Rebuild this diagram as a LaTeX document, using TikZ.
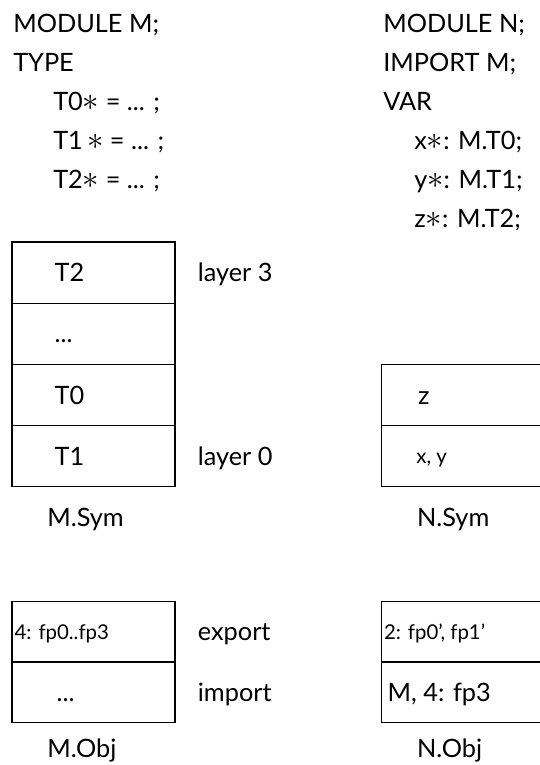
\documentclass[tikz,border=0pt]{standalone}
\usepackage{fontspec}
\setmainfont{Lato}
\usetikzlibrary{positioning}

% export mark after a name
\newcommand{\expmark}{\scalebox{1.35}{$\ast$}}

\tikzset{
	cell/.style={shape=rectangle, draw, line width=0.9pt, minimum width=4.075cm, minimum height=1.53cm},
	objcell/.style={cell, minimum height=1.51cm},
	code/.style={anchor=base west, inner sep=0pt, font=\fontsize{18}{21}\selectfont},
	entry/.style={inner sep=0pt, text height=12.9pt, text depth=0pt, font=\fontsize{18}{21}\selectfont},
	small/.style={entry, text height=10.4pt, font=\fontsize{14.5}{17}\selectfont},
}

\begin{document}
\begin{tikzpicture}
	\useasboundingbox (0,0) rectangle (13.5,19.125);
	% Source text of M and N:
	\node[code] (msrc1) at (0.325, 18.3){MODULE M;};
	\node[code] (msrc2) at (0.325, 17.325){TYPE};
	\node[code] (msrc3) at (1.325, 16.35){T0\expmark{} = ... ;};
	\node[code] (msrc4) at (1.325, 15.375){T1\,\expmark{} = ... ;};
	\node[code] (msrc5) at (1.325, 14.4){T2\expmark{} = ... ;};
	\node[code] (nsrc1) at (9.575, 18.3){MODULE N;};
	\node[code] (nsrc2) at (9.575, 17.325){IMPORT M;};
	\node[code] (nsrc3) at (9.575, 16.35){VAR};
	\node[code] (nsrc4) at (10.35, 15.375){x\expmark: M.T0;};
	\node[code] (nsrc5) at (10.35, 14.4){y\expmark: M.T1;};
	\node[code] (nsrc6) at (10.35, 13.425){z\expmark: M.T2;};
	% Symbol file of M:
	\node[cell] (msym3) at (2.3375, 12.31){};
	\node[entry, right=1.075cm of msym3.west] (msym3t){T2};
	\node[cell] (msym2) at (2.3375, 10.78){};
	\node[entry, right=1.075cm of msym2.west] (msym2t){...};
	\node[cell] (msym1) at (2.3375, 9.25){};
	\node[entry, right=1.075cm of msym1.west] (msym1t){T0};
	\node[cell] (msym0) at (2.3375, 7.72){};
	\node[entry, right=1.075cm of msym0.west] (msym0t){T1};
	\node[entry, right=0.55cm of msym3.east] (layer3){layer 3};
	\node[entry, right=0.55cm of msym0.east] (layer0){layer 0};
	\node[code] (msym) at (1.175, 5.95){M.Sym};
	% Symbol file of N:
	\node[cell] (nsym1) at (11.5775, 9.25){};
	\node[entry, right=0.92cm of nsym1.west] (nsym1t){z};
	\node[cell] (nsym0) at (11.5775, 7.72){};
	\node[small, right=0.88cm of nsym0.west] (nsym0t){x, y};
	\node[code] (nsym) at (10.42, 5.95){N.Sym};
	% Object files:
	\node[objcell] (mobj1) at (2.3375, 3.33){};
	\node[small, right=0.075cm of mobj1.west] (mobj1t){4: fp0..fp3};
	\node[objcell] (mobj0) at (2.3375, 1.82){};
	\node[entry, right=1.125cm of mobj0.west] (mobj0t){...};
	\node[entry, right=0.55cm of mobj1.east] (export){export};
	\node[entry, right=0.55cm of mobj0.east] (import){import};
	\node[code] (mobj) at (1.175, 0.2){M.Obj};
	\node[objcell] (nobj1) at (11.5775, 3.33){};
	\node[small, right=0.07cm of nobj1.west] (nobj1t){2: fp0', fp1'};
	\node[objcell] (nobj0) at (11.5775, 1.82){};
	\node[entry, right=0.16cm of nobj0.west] (nobj0t){M, 4: fp3};
	\node[code] (nobj) at (10.42, 0.2){N.Obj};
\end{tikzpicture}
\end{document}
